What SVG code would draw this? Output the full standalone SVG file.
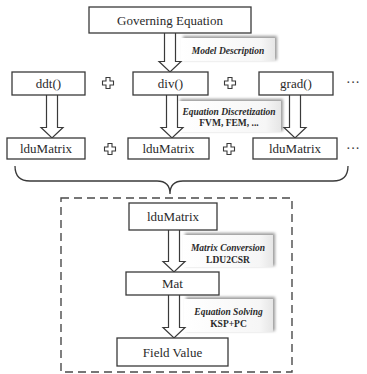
<svg xmlns="http://www.w3.org/2000/svg" width="367" height="374" viewBox="0 0 367 374">
<style>
.box{fill:#fff;stroke:#3a3a3a;stroke-width:1.3}
.t{font-family:"Liberation Serif","Times New Roman",serif;font-size:13px;fill:#2a2a2a;text-anchor:middle}
.lb{font-family:"Liberation Serif","Times New Roman",serif;font-size:9.5px;font-weight:bold;fill:#2a2a2a;text-anchor:middle}
.it{font-style:italic}
.arr{fill:#fff;stroke:#3a3a3a;stroke-width:1.2;stroke-linejoin:miter}
.plus{fill:#fff;stroke:#3a3a3a;stroke-width:1.1}
.dots{font-family:"Liberation Serif",serif;font-size:14px;fill:#3a3a3a}
</style>
<defs>
<linearGradient id="lg" x1="0" y1="0" x2="1" y2="0">
<stop offset="0" stop-color="#ffffff"/>
<stop offset="0.85" stop-color="#f6f6f6"/>
<stop offset="1" stop-color="#e6e6e6"/>
</linearGradient>
<filter id="sh" x="-20%" y="-40%" width="140%" height="180%">
<feGaussianBlur stdDeviation="1.6"/>
</filter>
<path id="pl" d="M-2,-5.5 H2 V-2 H5.5 V2 H2 V5.5 H-2 V2 H-5.5 V-2 H-2 Z"/>
</defs>

<g id="labels">
<g id="lbl-model">
<rect x="183" y="36" width="94" height="24" fill="#9a9a9a" filter="url(#sh)"/>
<rect x="181" y="38" width="94" height="23" fill="url(#lg)"/>
<text class="lb it" x="228" y="53.5">Model Description</text>
</g>
<g id="lbl-disc">
<rect x="180" y="99" width="103" height="32" fill="#9a9a9a" filter="url(#sh)"/>
<rect x="178" y="101" width="103" height="31" fill="url(#lg)"/>
<text class="lb it" x="229" y="114.5">Equation Discretization</text>
<text class="lb" x="229" y="126">FVM, FEM, ...</text>
</g>
<g id="lbl-conv">
<rect x="185" y="233" width="90" height="33" fill="#9a9a9a" filter="url(#sh)"/>
<rect x="183" y="235" width="90" height="32" fill="url(#lg)"/>
<text class="lb it" x="228" y="251">Matrix Conversion</text>
<text class="lb" x="228" y="263">LDU2CSR</text>
</g>
<g id="lbl-solve">
<rect x="186" y="297" width="89" height="34" fill="#9a9a9a" filter="url(#sh)"/>
<rect x="184" y="299" width="89" height="33" fill="url(#lg)"/>
<text class="lb it" x="228.5" y="315">Equation Solving</text>
<text class="lb" x="228.5" y="327">KSP+PC</text>
</g>
</g>

<g id="connectors">
<path class="arr" d="M164.5,33 V61.5 H159 L170,72 L181,61.5 H175.5 V33"/>
<path class="arr" d="M46.5,95 V127.5 H41 L52,138 L63,127.5 H57.5 V95"/>
<path class="arr" d="M166.5,95 V127.5 H161 L172,138 L183,127.5 H177.5 V95"/>
<path class="arr" d="M289.5,95 V127.5 H284 L295,138 L306,127.5 H300.5 V95"/>
<path class="arr" d="M168.5,230 V261.5 H163 L174,272 L185,261.5 H179.5 V230"/>
<path class="arr" d="M168.5,295 V327.5 H163 L174,338 L185,327.5 H179.5 V295"/>
<path id="brace" d="M15,166 Q15,181 30,181 H157 Q170,181 170,194 Q170,181 183,181 H333 Q348,181 348,166" fill="none" stroke="#3a3a3a" stroke-width="1.3"/>
<rect id="dashed" x="61" y="198" width="231" height="174" fill="none" stroke="#4a4a4a" stroke-width="1.4" stroke-dasharray="8,5"/>
</g>

<g id="gov"><rect class="box" x="89" y="7" width="162" height="26"/><text class="t" x="170" y="25">Governing Equation</text></g>
<g id="ddt"><rect class="box" x="12" y="72" width="73" height="23"/><text class="t" x="48.5" y="88">ddt()</text></g>
<g id="div"><rect class="box" x="133" y="72" width="75" height="23"/><text class="t" x="170.5" y="88">div()</text></g>
<g id="grad"><rect class="box" x="259" y="72" width="74" height="23"/><text class="t" x="296" y="88">grad()</text></g>
<g id="ldu1"><rect class="box" x="7" y="138" width="78" height="21"/><text class="t" x="46" y="153">lduMatrix</text></g>
<g id="ldu2"><rect class="box" x="128" y="138" width="81" height="21"/><text class="t" x="168.5" y="153">lduMatrix</text></g>
<g id="ldu3"><rect class="box" x="253" y="138" width="84" height="21"/><text class="t" x="295" y="153">lduMatrix</text></g>
<g id="ldu"><rect class="box" x="129" y="203" width="88" height="27"/><text class="t" x="173" y="221">lduMatrix</text></g>
<g id="mat"><rect class="box" x="126" y="272" width="93" height="23"/><text class="t" x="172.5" y="288">Mat</text></g>
<g id="field"><rect class="box" x="117" y="338" width="111" height="28"/><text class="t" x="172.5" y="357">Field Value</text></g>

<g id="operators">
<use href="#pl" class="plus" x="108" y="83"/>
<use href="#pl" class="plus" x="230" y="83"/>
<use href="#pl" class="plus" x="110" y="149"/>
<use href="#pl" class="plus" x="229" y="149"/>
<text class="dots" x="346" y="87">···</text>
<text class="dots" x="346" y="153">···</text>
</g>
</svg>
